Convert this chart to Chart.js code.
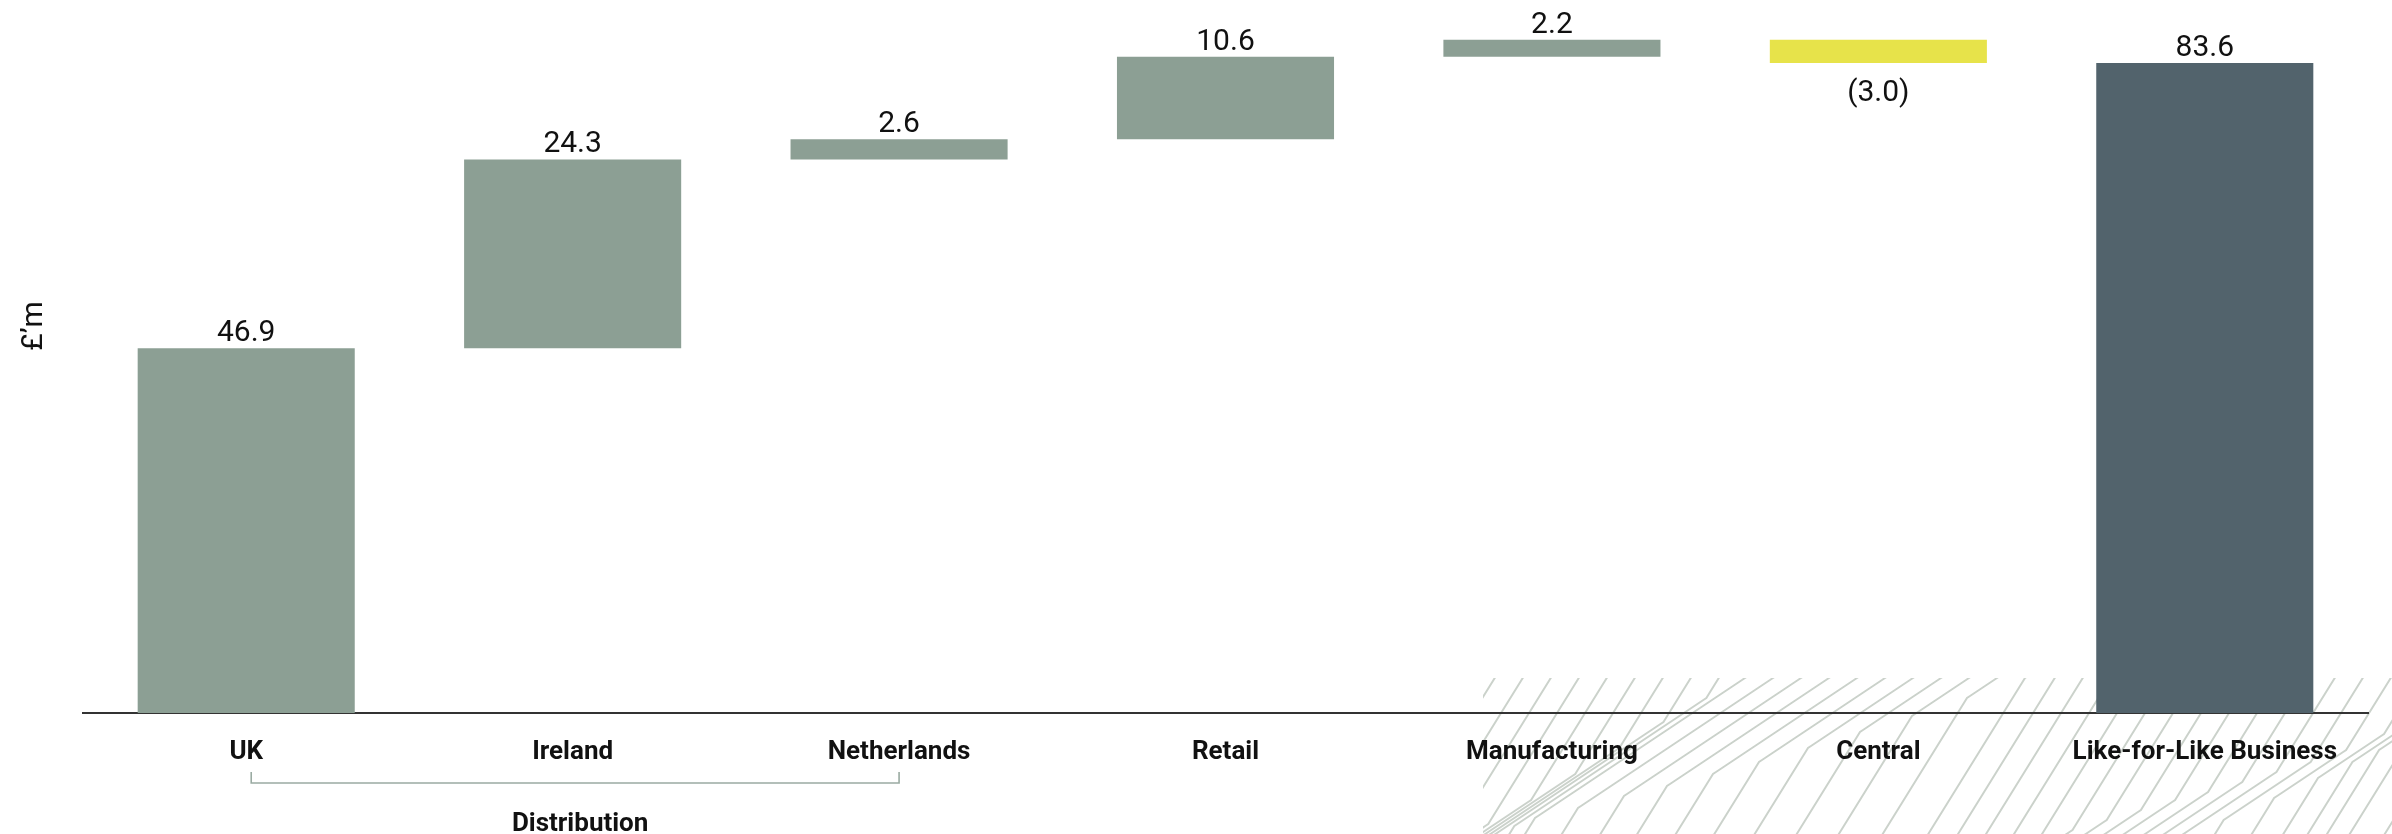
<!DOCTYPE html>
<html>
<head>
<meta charset="utf-8">
<script src="https://cdn.jsdelivr.net/npm/chart.js@4.4.1/dist/chart.umd.min.js"></script>
<style>
  html, body { margin: 0; padding: 0; background: #ffffff; }
  #wrap { width: 2392px; height: 834px; position: relative; }
</style>
</head>
<body>
<div id="wrap"><canvas id="c" width="2392" height="834"></canvas></div>
<script>
// ---- data ----
const categories = ['UK', 'Ireland', 'Netherlands', 'Retail', 'Manufacturing', 'Central', 'Like-for-Like Business'];
const changes = [46.9, 24.3, 2.6, 10.6, 2.2, -3.0, null]; // null = total bar
const totalValue = 83.6;
const groupLabel = 'Distribution';
const groupFrom = 'UK';
const groupTo = 'Netherlands';
const yTitle = '£\u2019m';

// build floating ranges from the changes
const ranges = [];
let running = 0;
changes.forEach(v => {
  if (v === null) { ranges.push([0, totalValue]); }
  else { ranges.push([running, running + v]); running += v; }
});
const displayValues = changes.map(v => v === null ? totalValue : v);

const SAGE = '#8c9f94', YELLOW = '#e7e34a', SLATE = '#52636c';
const colors = changes.map(v => v === null ? SLATE : (v < 0 ? YELLOW : SAGE));

function fmt(v) { return v < 0 ? '(' + Math.abs(v).toFixed(1) + ')' : v.toFixed(1); }

// decorative hatch behind the right of the axis
const hatchPlugin = {
  id: 'hatch',
  beforeDraw(chart) {
    const ctx = chart.ctx;
    const x0 = 1483, y0 = 678, x1 = 2392, y1 = 834;
    ctx.save();
    ctx.beginPath();
    ctx.rect(x0, y0, x1 - x0, y1 - y0);
    ctx.clip();
    ctx.strokeStyle = '#cbd2cb';
    ctx.lineWidth = 2;
    for (let xs = 1440; xs < 2750; xs += 28) {
      let x = xs, y = 676;
      ctx.beginPath();
      ctx.moveTo(x, y);
      while (y < 840) {
        const f = Math.sin((xs * 1.0 + y * 1.6) / 110) + 0.5 * Math.sin(xs / 140);
        const k = f > 0.45 ? 1.5 : 0.62;
        y += 2; x -= 2 * k;
        ctx.lineTo(x, y);
      }
      ctx.stroke();
    }
    ctx.restore();
  }
};

// value labels + bracket + y title
const annotPlugin = {
  id: 'annot',
  afterDatasetsDraw(chart) {
    const ctx = chart.ctx;
    const meta = chart.getDatasetMeta(0);
    const ys = chart.scales.y;
    const xs = chart.scales.x;
    ctx.save();
    ctx.fillStyle = '#111111';
    ctx.font = '30px Roboto';
    ctx.textAlign = 'center';
    ctx.textBaseline = 'alphabetic';
    meta.data.forEach((bar, i) => {
      const r = ranges[i];
      const v = displayValues[i];
      const hi = ys.getPixelForValue(Math.max(r[0], r[1]));
      const lo = ys.getPixelForValue(Math.min(r[0], r[1]));
      if (v < 0) ctx.fillText(fmt(v), bar.x, lo + 38);
      else ctx.fillText(fmt(v), bar.x, hi - 7);
    });
    // group bracket
    const a = xs.getPixelForValue(categories.indexOf(groupFrom)) + 5;
    const b = xs.getPixelForValue(categories.indexOf(groupTo));
    ctx.strokeStyle = '#9aaba2';
    ctx.lineWidth = 1.6;
    ctx.beginPath();
    ctx.moveTo(a, 772); ctx.lineTo(a, 783); ctx.lineTo(b, 783); ctx.lineTo(b, 772);
    ctx.stroke();
    ctx.font = 'bold 26px Roboto';
    ctx.fillText(groupLabel, (a + b) / 2 + 5, 831);
    // y title
    ctx.translate(42, 326);
    ctx.rotate(-Math.PI / 2);
    ctx.font = '30px Roboto';
    ctx.textAlign = 'center';
    ctx.fillText(yTitle, 0, 0);
    ctx.restore();
  }
};

new Chart(document.getElementById('c'), {
  type: 'bar',
  data: {
    labels: categories,
    datasets: [{
      data: ranges,
      backgroundColor: colors,
      borderWidth: 0,
      categoryPercentage: 1,
      barPercentage: 0.665
    }]
  },
  options: {
    responsive: false,
    devicePixelRatio: 1,
    animation: false,
    layout: { padding: { top: 0, right: 24, bottom: 0, left: 0 } },
    plugins: { legend: { display: false }, tooltip: { enabled: false } },
    scales: {
      x: {
        grid: { display: false, drawTicks: false },
        border: { display: true, color: '#333333', width: 2 },
        ticks: { color: '#111111', font: { family: 'Roboto', weight: 'bold', size: 26 }, padding: 24, maxRotation: 0, autoSkip: false },
        afterFit(s) { s.height = 121; }
      },
      y: {
        min: 0, max: 91.7,
        grid: { display: false },
        border: { display: false },
        ticks: { display: false },
        afterFit(s) { s.width = 83; }
      }
    }
  },
  plugins: [hatchPlugin, annotPlugin]
});
</script>
</body>
</html>
